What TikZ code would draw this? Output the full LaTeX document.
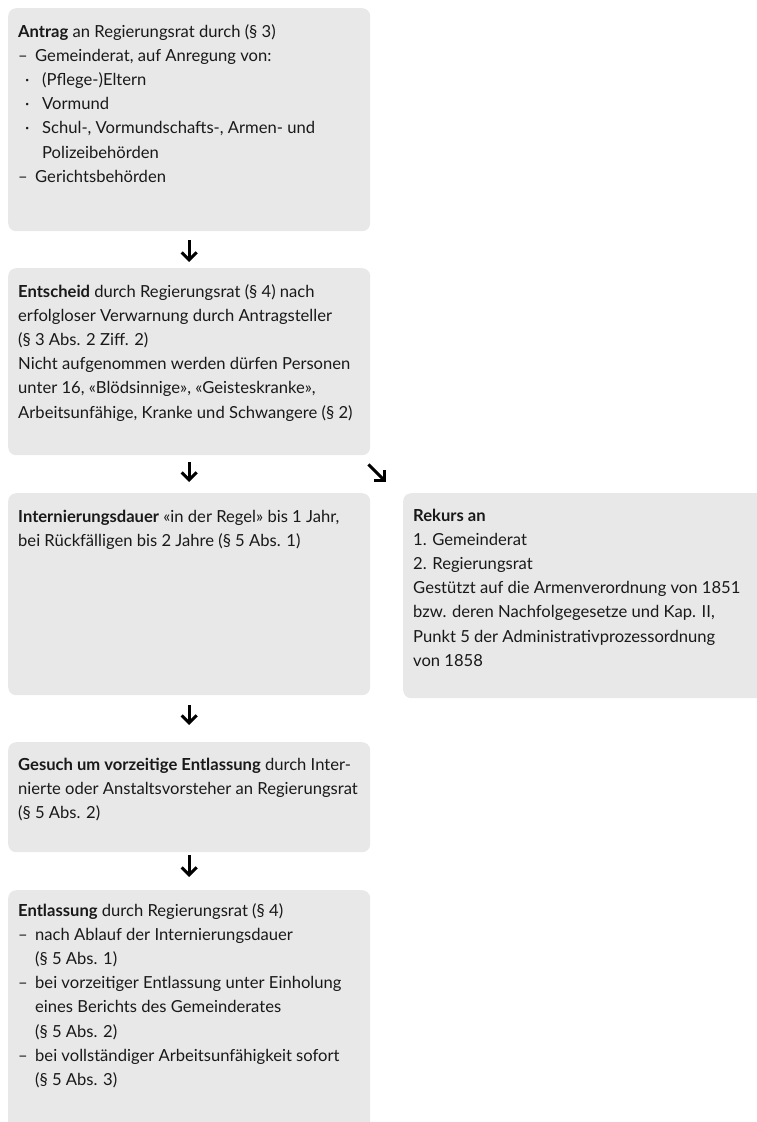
\documentclass[tikz,border=0pt]{standalone}
\usepackage{fontspec}
\setmainfont{Lato}
\usetikzlibrary{arrows.meta}
\definecolor{boxgray}{HTML}{E8E8E8}
\newcommand{\dl}{\makebox[17pt][l]{–}}
\newcommand{\bl}{\hspace*{7pt}\makebox[17pt][l]{·}}
\newcommand{\ind}{\hspace*{17pt}}
\newcommand{\bind}{\hspace*{24pt}}
\begin{document}
\begin{tikzpicture}[x=1pt,y=-1pt,
  box/.style={fill=boxgray, rounded corners=8pt, inner sep=0pt, anchor=north west, minimum width=362pt},
  txt/.style={inner sep=0pt, anchor=base west, font=\fontsize{16.6}{24.2}\selectfont, text=black!90},
  arr/.style={line width=3pt, -{Straight Barb[length=7.5pt,width=15pt]}}]
\useasboundingbox (0,0) rectangle (757,1122);
\clip (0,0) rectangle (757,1122);
% boxes
\node[box, minimum height=223pt] (b1) at (8,8) {};
\node[box, minimum height=187pt] (b2) at (8,268) {};
\node[box, minimum height=202pt] (b3) at (8,493) {};
\node[box, minimum height=205pt, minimum width=380pt] (r) at (403,493) {};
\node[box, minimum height=110pt] (b4) at (8,742) {};
\node[box, minimum height=260pt] (b5) at (8,890) {};
% texts
\node[txt] (t1) at (18,37) {\parbox[t]{350pt}{\raggedright
\textbf{Antrag} an Regierungsrat durch (§ 3)\\
\dl Gemeinderat, auf Anregung von:\\
\bl (Pflege-)Eltern\\
\bl Vormund\\
\bl Schul-, Vormundschafts-, Armen- und\\
\bind Polizeibehörden\\
\dl Gerichtsbehörden}};
\node[txt] (t2) at (18,297) {\parbox[t]{350pt}{\raggedright
\textbf{Entscheid} durch Regierungsrat (§ 4) nach\\
erfolgloser Verwarnung durch Antragsteller\\
(§ 3 Abs. 2 Ziff. 2)\\
Nicht aufgenommen werden dürfen Personen\\
unter 16, «Blödsinnige», «Geisteskranke»,\\
Arbeitsunfähige, Kranke und Schwangere (§ 2)}};
\node[txt] (t3) at (18,522) {\parbox[t]{350pt}{\raggedright
\textbf{Internierungsdauer} «in der Regel» bis 1 Jahr,\\
bei Rückfälligen bis 2 Jahre (§ 5 Abs. 1)}};
\node[txt] (tr) at (413,521) {\parbox[t]{350pt}{\raggedright
\textbf{Rekurs an}\\
1. Gemeinderat\\
2. Regierungsrat\\
Gestützt auf die Armenverordnung von 1851\\
bzw. deren Nachfolgegesetze und Kap. II,\\
Punkt 5 der Administrativprozessordnung\\
von 1858}};
\node[txt] (t4) at (18,770) {\parbox[t]{350pt}{\raggedright
\textbf{Gesuch um vorzeitige Entlassung} durch Inter-\\
nierte oder Anstaltsvorsteher an Regierungsrat\\
(§ 5 Abs. 2)}};
\node[txt] (t5) at (18,916) {\parbox[t]{350pt}{\raggedright
\textbf{Entlassung} durch Regierungsrat (§ 4)\\
\dl nach Ablauf der Internierungsdauer\\
\ind (§ 5 Abs. 1)\\
\dl bei vorzeitiger Entlassung unter Einholung\\
\ind eines Berichts des Gemeinderates\\
\ind (§ 5 Abs. 2)\\
\dl bei vollständiger Arbeitsunfähigkeit sofort\\
\ind (§ 5 Abs. 3)}};
% arrows
\draw[arr] ([shift={(0,9)}]b1.south) -- ([shift={(0,-6)}]b2.north);
\draw[arr] ([shift={(0,7)}]b2.south) -- ([shift={(0,-11)}]b3.north);
\draw[arr] ([shift={(-2,9)}]b2.south east) -- ([shift={(-17,-11)}]r.north west);
\draw[arr] ([shift={(0,10)}]b3.south) -- ([shift={(0,-17)}]b4.north);
\draw[arr] ([shift={(0,3)}]b4.south) -- ([shift={(0,-13)}]b5.north);
\end{tikzpicture}
\end{document}
